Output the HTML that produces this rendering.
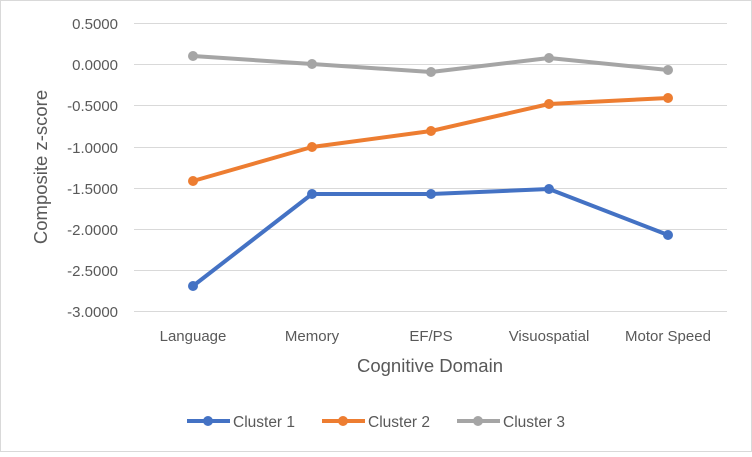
<!DOCTYPE html>
<html><head><style>
body{margin:0;background:#fff}
svg text{font-family:"Liberation Sans",sans-serif;fill:#595959}
</style></head><body>
<svg width="752" height="452" xmlns="http://www.w3.org/2000/svg">
<rect x="0.5" y="0.5" width="751" height="451" fill="#fff" stroke="#d9d9d9"/>
<g stroke="#d9d9d9" stroke-width="1">
<line x1="134" x2="727" y1="23.5" y2="23.5"/>
<line x1="134" x2="727" y1="64.5" y2="64.5"/>
<line x1="134" x2="727" y1="105.5" y2="105.5"/>
<line x1="134" x2="727" y1="147.5" y2="147.5"/>
<line x1="134" x2="727" y1="188.5" y2="188.5"/>
<line x1="134" x2="727" y1="229.5" y2="229.5"/>
<line x1="134" x2="727" y1="270.5" y2="270.5"/>
<line x1="134" x2="727" y1="311.5" y2="311.5"/>
</g>
<g font-size="15" text-anchor="end">
<text x="118" y="29">0.5000</text>
<text x="118" y="70">0.0000</text>
<text x="118" y="111">-0.5000</text>
<text x="118" y="153">-1.0000</text>
<text x="118" y="194">-1.5000</text>
<text x="118" y="235">-2.0000</text>
<text x="118" y="276">-2.5000</text>
<text x="118" y="317">-3.0000</text>
</g>
<g font-size="15" text-anchor="middle">
<text x="193" y="341">Language</text>
<text x="312" y="341">Memory</text>
<text x="431" y="341">EF/PS</text>
<text x="549" y="341">Visuospatial</text>
<text x="668" y="341">Motor Speed</text>
</g>
<text x="430" y="372" font-size="18.5" text-anchor="middle">Cognitive Domain</text>
<text transform="translate(47,167) rotate(-90)" font-size="18.5" text-anchor="middle">Composite z-score</text>
<g fill="none" stroke-width="4" stroke-linejoin="round">
<polyline stroke="#a5a5a5" points="193,56 312,64 431,72 549,58 668,70"/>
<polyline stroke="#ed7d31" points="193,181 312,147 431,131 549,104 668,98"/>
<polyline stroke="#4472c4" points="193,286 312,194 431,194 549,189 668,235"/>
</g>
<g fill="#a5a5a5"><circle cx="193" cy="56" r="5"/><circle cx="312" cy="64" r="5"/><circle cx="431" cy="72" r="5"/><circle cx="549" cy="58" r="5"/><circle cx="668" cy="70" r="5"/></g>
<g fill="#ed7d31"><circle cx="193" cy="181" r="5"/><circle cx="312" cy="147" r="5"/><circle cx="431" cy="131" r="5"/><circle cx="549" cy="104" r="5"/><circle cx="668" cy="98" r="5"/></g>
<g fill="#4472c4"><circle cx="193" cy="286" r="5"/><circle cx="312" cy="194" r="5"/><circle cx="431" cy="194" r="5"/><circle cx="549" cy="189" r="5"/><circle cx="668" cy="235" r="5"/></g>
<g stroke-width="4">
<line x1="187" x2="230" y1="421" y2="421" stroke="#4472c4"/><circle cx="208" cy="421" r="5" fill="#4472c4"/>
<line x1="322" x2="365" y1="421" y2="421" stroke="#ed7d31"/><circle cx="343" cy="421" r="5" fill="#ed7d31"/>
<line x1="457" x2="500" y1="421" y2="421" stroke="#a5a5a5"/><circle cx="478" cy="421" r="5" fill="#a5a5a5"/>
</g>
<g font-size="15.5">
<text x="233" y="427">Cluster 1</text>
<text x="368" y="427">Cluster 2</text>
<text x="503" y="427">Cluster 3</text>
</g>
</svg>
</body></html>
